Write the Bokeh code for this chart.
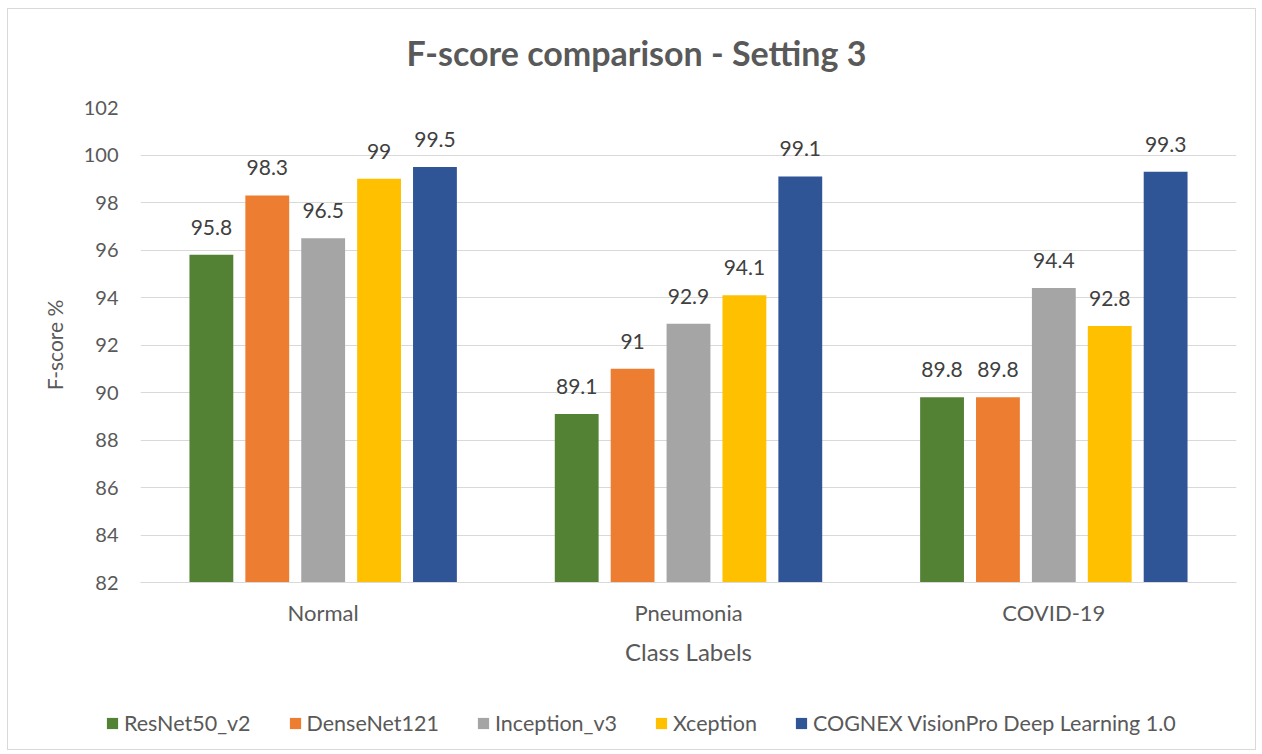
from bokeh.plotting import figure
from bokeh.layouts import column
from bokeh.models import ColumnDataSource, FactorRange, Legend, LegendItem, LabelSet, Label, FixedTicker, Range1d
from bokeh.transform import dodge
from bokeh.embed import file_html
from bokeh.resources import INLINE
from bokeh.core.properties import value

title_text = "F-score comparison - Setting 3"
categories = ["Normal", "Pneumonia", "COVID-19"]
series_names = ["ResNet50_v2", "DenseNet121", "Inception_v3", "Xception", "COGNEX VisionPro Deep Learning 1.0"]
resnet = [95.8, 89.1, 89.8]
densenet = [98.3, 91.0, 89.8]
inception = [96.5, 92.9, 94.4]
xception = [99.0, 94.1, 92.8]
cognex = [99.5, 99.1, 99.3]
label_text = [["95.8", "89.1", "89.8"], ["98.3", "91", "89.8"], ["96.5", "92.9", "94.4"],
              ["99", "94.1", "92.8"], ["99.5", "99.1", "99.3"]]
y_ticks = [82, 84, 86, 88, 90, 92, 94, 96, 98, 100, 102]

colors = ["#548235", "#ED7D31", "#A5A5A5", "#FFC000", "#2F5597"]
offsets = [-0.306, -0.153, 0.0, 0.153, 0.306]
series = [resnet, densenet, inception, xception, cognex]

FONT = "Lato"
TXT = "#595959"
W = 1247


def strip(h):
    f = figure(width=W, height=h, output_backend="svg", toolbar_location=None,
               x_range=Range1d(0, W), y_range=Range1d(0, h), x_axis_type=None, y_axis_type=None,
               min_border_left=0, min_border_right=0, min_border_top=0, min_border_bottom=0)
    f.grid.grid_line_color = None
    f.outline_line_color = None
    f.frame_align = False
    return f


# title strip
ts = strip(75)
ts.add_layout(Label(x=628, y=32, text=title_text, text_align="center", text_baseline="alphabetic",
                    text_font=FONT, text_font_size="34px", text_font_style="bold", text_color=TXT))

p = figure(x_range=FactorRange(*categories), y_range=(82, 102),
           width=W, height=606, output_backend="svg", toolbar_location=None,
           min_border_left=132, min_border_right=19, min_border_top=23, min_border_bottom=108)
p.frame_align = False

for name, vals, col, off, lab in zip(series_names, series, colors, offsets, label_text):
    src = ColumnDataSource(dict(cat=categories, val=vals, lab=lab))
    p.vbar(x=dodge("cat", off, range=p.x_range), top="val", bottom=82, width=0.12,
           source=src, fill_color=col, line_color=None)
    ls = LabelSet(x=dodge("cat", off, range=p.x_range), y="val", text="lab", source=src,
                  text_align="center", text_baseline="bottom", y_offset=20,
                  text_font=value(FONT), text_font_size="21px", text_color="#404040")
    p.add_layout(ls)

p.xgrid.grid_line_color = None
p.ygrid.grid_line_color = "#d9d9d9"
p.ygrid.grid_line_width = 1
p.yaxis.ticker = FixedTicker(ticks=y_ticks)
p.yaxis.axis_line_color = None
p.yaxis.major_tick_line_color = None
p.yaxis.minor_tick_line_color = None
p.yaxis.major_tick_out = 0
p.yaxis.major_tick_in = 0
p.yaxis.major_label_text_font = FONT
p.yaxis.major_label_text_font_size = "20px"
p.yaxis.major_label_text_color = TXT
p.yaxis.major_label_standoff = 22
p.yaxis.axis_label = "F-score %"
p.yaxis.axis_label_text_font = FONT
p.yaxis.axis_label_text_font_size = "21px"
p.yaxis.axis_label_text_font_style = "normal"
p.yaxis.axis_label_text_color = TXT
p.yaxis.axis_label_standoff = 14

p.xaxis.axis_line_color = "#d9d9d9"
p.xaxis.major_tick_line_color = None
p.xaxis.minor_tick_line_color = None
p.xaxis.major_tick_out = 0
p.xaxis.major_tick_in = 0
p.xaxis.major_label_text_font = FONT
p.xaxis.major_label_text_font_size = "22px"
p.xaxis.major_label_text_color = TXT
p.xaxis.major_label_standoff = 16
p.xaxis.axis_label = "Class Labels"
p.xaxis.axis_label_text_font = FONT
p.xaxis.axis_label_text_font_size = "24px"
p.xaxis.axis_label_text_font_style = "normal"
p.xaxis.axis_label_text_color = TXT
p.xaxis.axis_label_standoff = 8
p.outline_line_color = None

# legend strip
lg = strip(59)
items = []
for name, col in zip(series_names, colors):
    r = lg.vbar(x=[-50], top=[-50], bottom=[-60], width=10, fill_color=col, line_color=None)
    items.append(LegendItem(label=name, renderers=[r]))
legend = Legend(items=items, orientation="horizontal", location=(97, 13),
                label_text_font=FONT, label_text_font_size="21.5px", label_text_color=TXT,
                glyph_width=14, glyph_height=14, spacing=37, label_standoff=5,
                border_line_color=None, background_fill_alpha=0, padding=0, margin=0)
lg.add_layout(legend, "center")

layout = column(ts, p, lg, spacing=0, margin=(8, 0, 0, 7),
                styles={"border": "1px solid #d9d9d9"})

open("out.html", "w").write(file_html(layout, INLINE))
